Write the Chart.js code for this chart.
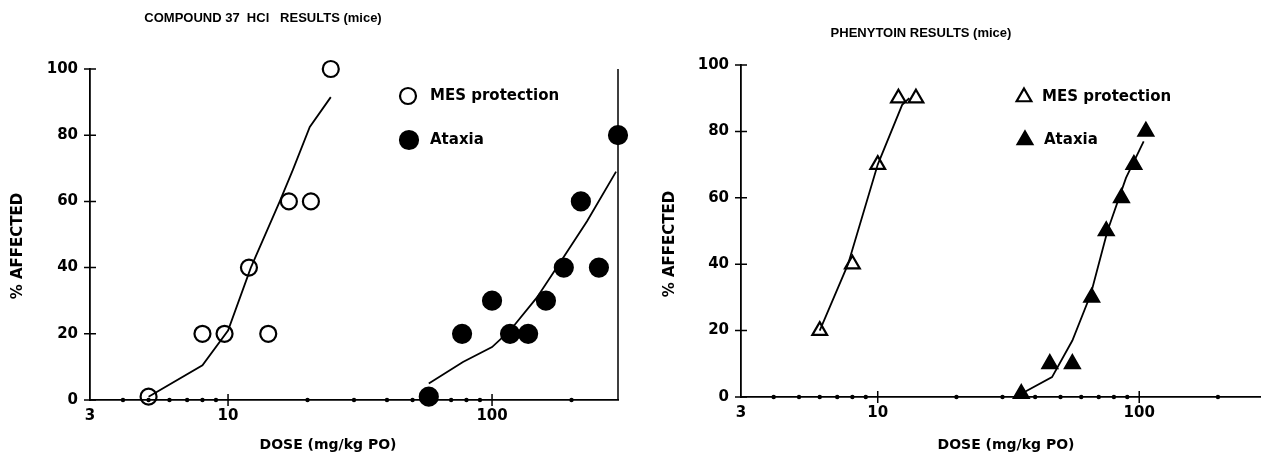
<!DOCTYPE html>
<html>
<head>
<meta charset="utf-8">
<title>Compound 37 HCl / Phenytoin</title>
<script src="https://cdn.jsdelivr.net/npm/chart.js@4.4.1/dist/chart.umd.min.js"></script>
<style>
  html, body { margin: 0; padding: 0; background: #fff; overflow: hidden; width: 1261px; height: 463px; }
  canvas { position: absolute; top: 0; }
  #grafica1 { left: 0; }
  #grafica2 { left: 635px; }
</style>
</head>
<body>
<canvas id="grafica1" width="630" height="463"></canvas>
<canvas id="grafica2" width="640" height="463"></canvas>
<script>
// datos (dosis en mg/kg, % afectado)

// compuesto 37 HCl
const dosisMesC37 = [5, 8, 9.7, 12, 14.2, 17, 20.6, 24.5];
const pctMesC37 = [1, 20, 20, 40, 20, 60, 60, 100];
const dosisCurvaMesC37 = [5, 8, 10, 12.2, 15.7, 17.6, 20.4, 24.5];
const pctCurvaMesC37 = [1, 10.5, 21, 40, 60, 69.5, 82.5, 91.5];
const dosisAtaxC37 = [57.6, 77, 100, 117, 137, 160, 187, 217, 254, 300];
const pctAtaxC37 = [1, 20, 30, 20, 20, 30, 40, 60, 40, 80];
const dosisCurvaAtaxC37 = [57.6, 77.6, 100, 117, 148, 186, 229, 295];
const pctCurvaAtaxC37 = [5, 11.5, 16, 21, 31, 43, 54, 69];

// fenitoina
const dosisMesFen = [6, 8, 10, 12, 14];
const pctMesFen = [20, 40, 70, 90, 90];
const dosisCurvaMesFen = [6, 7.7, 10, 12.4, 13.2];
const pctCurvaMesFen = [20, 40, 70, 88, 90];
const dosisAtaxFen = [35.4, 45.5, 55.5, 65.8, 74.8, 85.5, 95.4, 106];
const pctAtaxFen = [1, 10, 10, 30, 50, 60, 70, 80];
const dosisCurvaAtaxFen = [35.4, 46.4, 55.5, 65.3, 75.6, 89, 104];
const pctCurvaAtaxFen = [1, 6, 17, 31, 50, 66, 77];

// ejes
const ticksDosis = [3, 4, 5, 6, 7, 8, 9, 10, 20, 30, 40, 50, 60, 70, 80, 90, 100, 200, 300];
const etiquetasDosis = [3, 10, 100];
const ticksMayores = [10, 100];
const ticksMenores = [4, 5, 6, 7, 8, 9, 20, 30, 40, 50, 60, 70, 80, 90, 200];
const ticksPct = [0, 20, 40, 60, 80, 100];

Chart.defaults.font.family = "'DejaVu Sans', sans-serif";
Chart.defaults.font.weight = "bold";
Chart.defaults.font.size = 15;
Chart.defaults.color = "#000";

const aPuntos = (xs, ys) => xs.map((x, i) => ({ x: x, y: ys[i] }));

function dibujarMarca(ctx, estilo, relleno, x, y, r) {
  ctx.beginPath();
  if (estilo === "triangle") {
    ctx.moveTo(x, y - r);
    ctx.lineTo(x + r * 0.866, y + r * 0.5);
    ctx.lineTo(x - r * 0.866, y + r * 0.5);
    ctx.closePath();
  } else {
    ctx.arc(x, y, r, 0, Math.PI * 2);
  }
  if (relleno) ctx.fill();
  ctx.stroke();
}

// marcas del eje (cruces y puntitos), leyenda y rotulos
const marcasEjes = {
  id: "marcasEjes",
  beforeDatasetsDraw(chart, args, opts) {
    const { ctx, chartArea, scales } = chart;
    const x0 = chartArea.left;
    const y0 = chartArea.bottom;
    ctx.save();
    ctx.strokeStyle = "#000";
    ctx.fillStyle = "#000";
    ctx.lineWidth = 1.5;
    ctx.beginPath();
    ticksPct.forEach((v) => {
      const py = scales.y.getPixelForValue(v);
      ctx.moveTo(x0 - 6, py);
      ctx.lineTo(x0 + 6, py);
    });
    ticksMayores.forEach((v) => {
      const px = scales.x.getPixelForValue(v);
      ctx.moveTo(px, y0 - 6);
      ctx.lineTo(px, y0 + 6);
    });
    if (opts.bordeDerecho) {
      ctx.moveTo(chartArea.right, chartArea.top);
      ctx.lineTo(chartArea.right, y0);
    }
    ctx.stroke();
    ticksMenores.forEach((v) => {
      const px = scales.x.getPixelForValue(v);
      ctx.beginPath();
      ctx.arc(px, y0, 2.2, 0, Math.PI * 2);
      ctx.fill();
    });
    ctx.restore();
  },
  afterDraw(chart, args, opts) {
    const ctx = chart.ctx;
    ctx.save();
    ctx.strokeStyle = "#000";
    ctx.fillStyle = "#000";
    ctx.textBaseline = "middle";
    ctx.textAlign = "left";
    ctx.font = "bold 15px 'DejaVu Sans', sans-serif";
    (opts.leyenda || []).forEach((item) => {
      const ds = chart.data.datasets[item.serie];
      ctx.lineWidth = ds.pointBorderWidth;
      dibujarMarca(ctx, ds.pointStyle, ds.pointBackgroundColor !== "rgba(0,0,0,0)", item.x, item.y, ds.pointRadius);
      ctx.fillText(ds.label, item.xTexto, item.y);
    });

    const r = opts.rotulos;
    ctx.textAlign = "center";
    ctx.font = "bold 13px 'Liberation Sans', sans-serif";
    ctx.fillText(r.titulo, r.tituloX, r.tituloY);
    ctx.font = "bold 14px 'DejaVu Sans', sans-serif";
    ctx.fillText("DOSE (mg/kg PO)", r.ejeX, r.ejeXY);
    ctx.font = "bold 15px 'DejaVu Sans', sans-serif";
    ctx.translate(r.ejeYX, r.ejeY);
    ctx.rotate(-Math.PI / 2);
    ctx.fillText("% AFFECTED", 0, 0);
    ctx.restore();
  },
};

function serieMarcas(etiqueta, xs, ys, estilo, relleno, radio) {
  return {
    label: etiqueta,
    data: aPuntos(xs, ys),
    pointStyle: estilo,
    pointRadius: radio,
    pointBorderWidth: 2.2,
    pointBorderColor: "#000",
    pointBackgroundColor: relleno ? "#000" : "rgba(0,0,0,0)",
    showLine: false,
    clip: false,
  };
}

function serieCurva(xs, ys) {
  return {
    label: "",
    data: aPuntos(xs, ys),
    showLine: true,
    borderColor: "#000",
    borderWidth: 1.8,
    pointRadius: 0,
    tension: 0,
    clip: false,
  };
}

function crearGrafica(id, datasets, conf) {
  new Chart(document.getElementById(id).getContext("2d"), {
    type: "scatter",
    data: { datasets: datasets },
    plugins: [marcasEjes],
    options: {
      responsive: false,
      animation: false,
      events: [],
      layout: { padding: { left: 0, right: conf.derecha, top: conf.arriba, bottom: 0 } },
      plugins: {
        legend: { display: false },
        tooltip: { enabled: false },
        title: { display: false },
        marcasEjes: { bordeDerecho: conf.bordeDerecho, leyenda: conf.leyenda, rotulos: conf.rotulos },
      },
      scales: {
        x: {
          type: "logarithmic",
          min: 3,
          max: 300,
          afterBuildTicks: (eje) => {
            eje.ticks = ticksDosis.map((v) => ({ value: v }));
          },
          afterFit: (eje) => {
            eje.height = conf.altoX;
          },
          grid: { display: false, drawTicks: false },
          border: { display: true, color: "#000", width: 1.8 },
          ticks: {
            autoSkip: false,
            maxRotation: 0,
            padding: 7,
            callback: (v) => (etiquetasDosis.includes(v) ? String(v) : ""),
          },
        },
        y: {
          min: 0,
          max: 100,
          afterBuildTicks: (eje) => {
            eje.ticks = ticksPct.map((v) => ({ value: v }));
          },
          afterFit: (eje) => {
            eje.width = conf.anchoY;
          },
          grid: { display: false, drawTicks: false },
          border: { display: true, color: "#000", width: 1.8 },
          ticks: { padding: 12 },
        },
      },
    },
  });
}

crearGrafica(
  "grafica1",
  [
    serieMarcas("MES protection", dosisMesC37, pctMesC37, "circle", false, 8),
    serieCurva(dosisCurvaMesC37, pctCurvaMesC37),
    serieMarcas("Ataxia", dosisAtaxC37, pctAtaxC37, "circle", true, 9),
    serieCurva(dosisCurvaAtaxC37, pctCurvaAtaxC37),
  ],
  {
    derecha: 12, arriba: 69, anchoY: 90, altoX: 63,
    bordeDerecho: true,
    leyenda: [
      { serie: 0, x: 408, y: 96, xTexto: 430 },
      { serie: 2, x: 409, y: 140, xTexto: 430 },
    ],
    rotulos: {
      titulo: "COMPOUND 37  HCl   RESULTS (mice)", tituloX: 263, tituloY: 18,
      ejeX: 328, ejeXY: 445, ejeYX: 18, ejeY: 246,
    },
  }
);

crearGrafica(
  "grafica2",
  [
    serieMarcas("MES protection", dosisMesFen, pctMesFen, "triangle", false, 8.5),
    serieCurva(dosisCurvaMesFen, pctCurvaMesFen),
    serieMarcas("Ataxia", dosisAtaxFen, pctAtaxFen, "triangle", true, 8.5),
    serieCurva(dosisCurvaAtaxFen, pctCurvaAtaxFen),
  ],
  {
    derecha: 11, arriba: 65, anchoY: 106, altoX: 66,
    bordeDerecho: false,
    leyenda: [
      { serie: 0, x: 389, y: 97, xTexto: 407 },
      { serie: 2, x: 390, y: 140, xTexto: 409 },
    ],
    rotulos: {
      titulo: "PHENYTOIN RESULTS (mice)", tituloX: 286, tituloY: 33,
      ejeX: 371, ejeXY: 445, ejeYX: 35, ejeY: 244,
    },
  }
);
</script>
</body>
</html>
